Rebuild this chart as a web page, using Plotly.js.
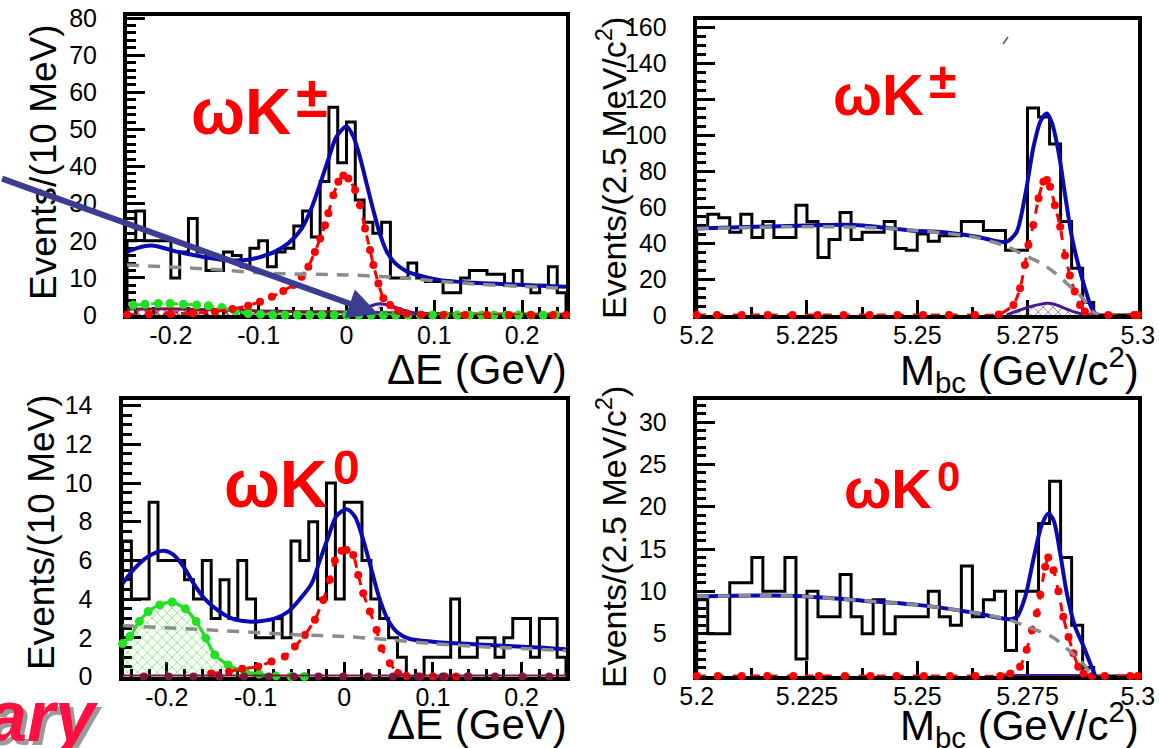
<!DOCTYPE html>
<html>
<head>
<meta charset="utf-8">
<script src="https://cdn.plot.ly/plotly-3.0.1.min.js"></script>
<style>
html, body { margin: 0; padding: 0; background: #ffffff; }
#chart { width: 1159px; height: 748px; }
</style>
</head>
<body>
<div id="chart"></div>
<script>
// ---- binning ----
const dEBinLow = -0.25, dEBinWidth = 0.01;      // ΔE histograms: 10 MeV bins
const mbcBinLow = 5.2, mbcBinWidth = 0.0025;    // Mbc histograms: 2.5 MeV/c^2 bins

// ---- event counts per bin ----
const kpmDECounts = [20, 28, 20, 20, 20, 10, 17, 26, 17, 12, 12, 17, 16, 13, 18, 20, 13, 17, 18, 24,
                     28, 21, 36, 56, 41, 52, 31, 25, 22, 25, 10, 10, 14, 10, 9, 9, 6, 6, 10, 12,
                     12, 11, 11, 8, 12, 8, 6, 8, 13, 6];
const kpmMbcCounts = [48, 56, 54, 46, 56, 43, 52, 43, 43, 61, 52, 32, 42, 57, 42, 46, 46, 52, 37, 36,
                      45, 41, 44, 44, 52, 52, 47, 47, 36, 36, 115, 110, 95, 52, 26, 7, 0, 0, 0, 0];
const k0DECounts = [7, 4, 4, 9, 6, 6, 6, 5, 4, 6, 3, 5, 3, 6, 4, 2, 2, 3, 2, 7,
                    6, 8, 4, 10, 4, 9, 9, 6, 4, 3, 2, 1, 0, 0, 1, 1, 1, 4, 1, 1,
                    2, 2, 1, 2, 3, 3, 1, 3, 3, 1];
const k0MbcCounts = [9, 5, 5, 11, 11, 14, 10, 10, 14, 2, 10, 7, 7, 12, 7, 5, 9, 5, 7, 7,
                     7, 10, 7, 6, 13, 7, 9, 10, 3, 10, 10, 18, 23, 14, 6, 1, 0, 0, 0, 0];

// ---- fit projections, omega K+- , Delta E ----
const kpmDETotalX = [-0.25, -0.2375, -0.222, -0.207, -0.192, -0.177, -0.158, -0.1425, -0.127, -0.112, -0.097, -0.082, -0.0665, -0.051, -0.04, -0.0305, -0.021, -0.0115, 0.0, 0.008, 0.0157, 0.0233, 0.031, 0.0385, 0.046, 0.0556, 0.069, 0.088, 0.107, 0.145, 0.183, 0.221, 0.25];
const kpmDETotalY = [17, 18.1, 18.7, 18, 17, 16.3, 15.4, 14.9, 14.7, 14.9, 15.7, 17, 19.3, 23.3, 28.7, 35, 41.7, 48, 50.8, 48, 42.2, 35, 27.8, 21.5, 17, 13.9, 11.7, 10.3, 9.4, 8.7, 8.3, 7.9, 7.6];
const kpmDEContX = [-0.25, -0.16, -0.085, 0.0, 0.065, 0.1, 0.15, 0.2, 0.25];
const kpmDEContY = [13.5, 12.4, 11.2, 10.8, 10.0, 9.2, 8.3, 7.7, 7.2];
const kpmDESigX = [-0.25, -0.225, -0.2, -0.175, -0.15, -0.13, -0.112, -0.0985, -0.085, -0.072, -0.0606, -0.051, -0.0435, -0.036, -0.030, -0.0245, -0.0207, -0.015, -0.0093, -0.0036, 0.0021, 0.0097, 0.0154, 0.0211, 0.0268, 0.0306, 0.0363, 0.042, 0.0496, 0.0591, 0.0686, 0.085, 0.11, 0.135, 0.16, 0.185, 0.21, 0.235, 0.25];
const kpmDESigY = [0.1, 0.2, 0.3, 0.5, 0.9, 1.6, 2.5, 3.6, 4.9, 6.5, 8.1, 10.3, 13, 17, 20.6, 24.2, 27.4, 32.3, 35.9, 37.6, 36.8, 33.7, 29.6, 23.3, 17.5, 13.5, 8.5, 4.5, 2.7, 1.1, 0.4, 0.1, 0, 0, 0, 0, 0, 0, 0];
const kpmDEFeedX = [-0.243, -0.2295, -0.2143, -0.201, -0.1858, -0.1706, -0.1573, -0.142, -0.1268, -0.112, -0.098, -0.084, -0.07, -0.056, -0.042, -0.028, -0.014, 0.0, 0.014, 0.028, 0.042, 0.056, 0.07, 0.084, 0.098, 0.112, 0.126, 0.14, 0.154, 0.168, 0.182, 0.196, 0.21, 0.224, 0.238];
const kpmDEFeedY = [2.7, 2.9, 3.1, 3.1, 2.9, 2.7, 2.5, 2.0, 1.1, 0.4, 0.15, 0, 0, 0, 0, 0, 0, 0, 0, 0, 0, 0, 0, 0, 0, 0, 0, 0, 0, 0, 0, 0, 0, 0, 0];
const kpmDEBBX = [-0.25, -0.2, -0.15, -0.1, -0.05, 0.0, 0.05, 0.1, 0.15, 0.2, 0.25];
const kpmDEBBY = [1.6, 1.7, 1.4, 1.1, 0.9, 0.8, 0.6, 0.4, 0.3, 0.25, 0.2];
const kpmDEPeakBkgX = [0.0, 0.01, 0.021, 0.031, 0.038, 0.05, 0.065, 0.08, 0.09];
const kpmDEPeakBkgY = [0.5, 0.9, 1.8, 2.7, 3.0, 2.5, 1.3, 0.4, 0.1];

// ---- fit projections, omega K+- , Mbc ----
const kpmMbcTotalX = [5.2, 5.2136, 5.2287, 5.236, 5.2484, 5.256, 5.2635, 5.268, 5.2703, 5.2725, 5.2745, 5.2764, 5.278, 5.2794, 5.2805, 5.282, 5.2835, 5.285, 5.2865, 5.288, 5.2895, 5.2905];
const kpmMbcTotalY = [48, 49, 50, 50, 47, 46, 43.5, 41, 40.7, 46, 67, 94, 108, 112, 107, 91, 67, 44, 28, 15, 4, 0.5];
const kpmMbcContX = [5.2, 5.21, 5.22, 5.23, 5.24, 5.25, 5.256, 5.2635, 5.2703, 5.2745, 5.2786, 5.2809, 5.2831, 5.2854, 5.2869, 5.2885, 5.2897, 5.291];
const kpmMbcContY = [48, 48.5, 49, 49, 48.5, 47, 45.5, 43, 38, 33, 28, 24, 19.4, 14, 11, 6, 2, 0];
const kpmMbcSigX = [5.2, 5.2046, 5.2102, 5.2161, 5.2217, 5.2274, 5.2333, 5.2392, 5.2455, 5.2513, 5.2572, 5.2631, 5.2685, 5.2718, 5.2733, 5.2744, 5.2752, 5.2763, 5.2775, 5.2786, 5.2794, 5.2801, 5.2812, 5.2824, 5.2835, 5.2846, 5.2857, 5.2869, 5.288, 5.2933, 5.2992, 5.3];
const kpmMbcSigY = [0, 0, 0, 0, 0, 0, 0, 0, 0, 0, 0, 0, 0.3, 5.6, 14.8, 27.8, 38.9, 50, 64.8, 74, 75, 71.3, 61, 49, 33, 22, 13, 5.6, 1.9, 0, 0, 0];
const kpmMbcPeakBkgX = [5.2703, 5.2733, 5.2756, 5.2778, 5.2794, 5.2809, 5.2831, 5.2854, 5.2877, 5.2892];
const kpmMbcPeakBkgY = [0, 2.8, 4.6, 5.9, 6.5, 6.1, 4.1, 1.9, 0.4, 0];

// ---- fit projections, omega K0 , Delta E ----
const k0DETotalX = [-0.25, -0.236, -0.221, -0.204, -0.1927, -0.1815, -0.1683, -0.157, -0.142, -0.127, -0.108, -0.093, -0.078, -0.063, -0.05, -0.0368, -0.0275, -0.0181, -0.0087, 0.0026, 0.012, 0.0214, 0.0308, 0.0402, 0.0496, 0.0609, 0.074, 0.1, 0.145, 0.183, 0.22, 0.25];
const k0DETotalY = [4.8, 5.6, 6.2, 6.5, 6.3, 5.7, 4.7, 4.0, 3.4, 3.0, 2.84, 2.87, 3.0, 3.36, 4.0, 4.8, 6.0, 7.2, 8.3, 8.64, 8.26, 7.06, 5.5, 3.96, 2.9, 2.24, 1.94, 1.8, 1.67, 1.58, 1.5, 1.41];
const k0DEContX = [-0.25, -0.15, -0.05, 0.0, 0.05, 0.1, 0.15, 0.2, 0.25];
const k0DEContY = [2.63, 2.4, 2.15, 2.07, 1.9, 1.7, 1.55, 1.45, 1.33];
const k0DESigX = [-0.15, -0.13, -0.115, -0.097, -0.082, -0.067, -0.0557, -0.0444, -0.0331, -0.0237, -0.0162, -0.0106, -0.0031, 0.0026, 0.0101, 0.0157, 0.0214, 0.0289, 0.0364, 0.042, 0.0514, 0.0608, 0.0702, 0.0852, 0.1, 0.113, 0.126, 0.14];
const k0DESigY = [0.15, 0.25, 0.4, 0.52, 0.77, 1.03, 1.55, 2.15, 2.93, 3.96, 5.0, 6.0, 6.5, 6.54, 6.28, 5.25, 4.3, 3.36, 2.4, 1.46, 0.69, 0.17, 0.03, 0, 0, 0, 0, 0];
const k0DEFeedX = [-0.25, -0.2417, -0.231, -0.221, -0.208, -0.194, -0.179, -0.167, -0.156, -0.146, -0.131, -0.112, -0.096, -0.077, -0.06, -0.045];
const k0DEFeedY = [1.7, 2.07, 2.84, 3.36, 3.7, 3.85, 3.5, 2.84, 1.98, 1.12, 0.6, 0.26, 0.12, 0.03, 0, 0];
const k0DEPeakBkgX = [-0.226, -0.198, -0.170, -0.141, -0.113, -0.085, -0.057, -0.029, -0.001, 0.027, 0.055, 0.083, 0.111, 0.139, 0.170, 0.201, 0.231];
const k0DEPeakBkgY = [0, 0, 0, 0, 0, 0, 0, 0, 0, 0, 0, 0, 0, 0, 0, 0, 0];

// ---- fit projections, omega K0 , Mbc ----
const k0MbcTotalX = [5.2, 5.215, 5.225, 5.2375, 5.25, 5.2625, 5.2711, 5.2726, 5.2745, 5.2763, 5.2782, 5.2797, 5.2809, 5.2824, 5.2839, 5.2858, 5.2877, 5.2892, 5.2903];
const k0MbcTotalY = [9.4, 9.5, 9.4, 8.9, 8.4, 7.5, 6.7, 7, 9.4, 13.7, 17.8, 19.2, 18.4, 14.5, 9.8, 5.8, 3.5, 1.5, 0.1];
const k0MbcContX = [5.2, 5.215, 5.225, 5.2375, 5.25, 5.2625, 5.2711, 5.2745, 5.278, 5.281, 5.284, 5.287, 5.289, 5.2905];
const k0MbcContY = [9.4, 9.5, 9.4, 8.9, 8.4, 7.5, 6.6, 5.9, 5.2, 4.5, 3.2, 1.8, 0.6, 0];
const k0MbcSigX = [5.2, 5.2048, 5.2102, 5.216, 5.2219, 5.2277, 5.2336, 5.2394, 5.2453, 5.2515, 5.2574, 5.2632, 5.2688, 5.2711, 5.2733, 5.2748, 5.276, 5.2771, 5.2779, 5.279, 5.2797, 5.2809, 5.282, 5.2831, 5.2843, 5.2854, 5.2865, 5.2877, 5.2896, 5.2925, 5.2983, 5.3];
const k0MbcSigY = [0, 0, 0, 0, 0, 0, 0, 0, 0, 0, 0, 0, 0, 0.3, 1.1, 3.1, 5.4, 7.4, 9.6, 12.9, 14, 12.5, 10, 7, 4.6, 2.7, 1.1, 0.3, 0, 0, 0, 0];
const k0MbcPeakBkgX = [5.2705, 5.2895];
const k0MbcPeakBkgY = [0, 0];

// ---- tick labels ----
const dETickVals = [-0.2, -0.1, 0, 0.1, 0.2];
const dETickText = ['-0.2', '-0.1', '0', '0.1', '0.2'];
const mbcTickVals = [5.2, 5.225, 5.25, 5.275, 5.3];
const mbcTickText = ['5.2', '5.225', '5.25', '5.275', '5.3'];

// ---- drawing helpers ----
const W = 1159, H = 748;
const px = v => v / W;
const py = v => 1 - v / H;

// step outline of a histogram, closed down to zero at both ends
function stepOutline(counts, lo, width) {
  const x = [lo], y = [0];
  counts.forEach((c, i) => { x.push(lo + i * width); y.push(c); });
  x.push(lo + counts.length * width); y.push(counts[counts.length - 1]);
  x.push(lo + counts.length * width); y.push(0);
  return { x, y };
}

const BLUE = '#0a0ab4', GRAY = '#8c8c8c', RED = '#ff0000', GREEN = '#22e022',
      PURPLE = '#4a1a8c', MAROON = '#7a1840';

function histTrace(counts, lo, width, xa, ya) {
  const s = stepOutline(counts, lo, width);
  return { type: 'scatter', mode: 'lines', x: s.x, y: s.y, xaxis: xa, yaxis: ya,
           line: { color: '#000', width: 3, shape: 'hv' }, hoverinfo: 'skip' };
}
function curve(x, y, xa, ya, color, width, dash) {
  return { type: 'scatter', mode: 'lines', x, y, xaxis: xa, yaxis: ya,
           line: { color, width, dash: dash || 'solid', shape: 'spline', smoothing: 0.8 },
           hoverinfo: 'skip' };
}
function dotted(x, y, xa, ya, color, size) {
  return { type: 'scatter', mode: 'lines+markers', x, y, xaxis: xa, yaxis: ya, cliponaxis: false,
           line: { color, width: 3, dash: 'dash', shape: 'spline', smoothing: 0.6 },
           marker: { color, size: size || 8 }, hoverinfo: 'skip' };
}
function hatched(x, y, xa, ya, color, shape, solidity) {
  return { type: 'scatter', mode: 'lines', x, y, xaxis: xa, yaxis: ya, fill: 'tozeroy',
           fillcolor: 'rgba(0,0,0,0)',
           fillpattern: { shape: shape || 'x', fgcolor: color, bgcolor: 'rgba(0,0,0,0)', size: 7, solidity: solidity || 0.15, fillmode: 'replace' },
           line: { color, width: 3, shape: 'spline', smoothing: 0.6 }, hoverinfo: 'skip' };
}

const traces = [
  // omega K+- , Delta E
  histTrace(kpmDECounts, dEBinLow, dEBinWidth, 'x', 'y'),
  hatched(kpmDEBBX, kpmDEBBY, 'x', 'y', MAROON, 'x', 0.35),
  dotted(kpmDEFeedX, kpmDEFeedY, 'x', 'y', GREEN, 9),
  hatched(kpmDEPeakBkgX, kpmDEPeakBkgY, 'x', 'y', PURPLE, 'x'),
  dotted(kpmDESigX, kpmDESigY, 'x', 'y', RED, 8),
  curve(kpmDETotalX, kpmDETotalY, 'x', 'y', BLUE, 4),
  curve(kpmDEContX, kpmDEContY, 'x', 'y', GRAY, 3.5, '12px,9px'),

  // omega K+- , Mbc
  histTrace(kpmMbcCounts, mbcBinLow, mbcBinWidth, 'x2', 'y2'),
  hatched(kpmMbcPeakBkgX, kpmMbcPeakBkgY, 'x2', 'y2', PURPLE, 'x'),
  dotted(kpmMbcSigX, kpmMbcSigY, 'x2', 'y2', RED, 8),
  curve(kpmMbcTotalX, kpmMbcTotalY, 'x2', 'y2', BLUE, 4),
  curve(kpmMbcContX, kpmMbcContY, 'x2', 'y2', GRAY, 3.5, '12px,9px'),

  // omega K0 , Delta E
  histTrace(k0DECounts, dEBinLow, dEBinWidth, 'x3', 'y3'),
  hatched(k0DEFeedX, k0DEFeedY, 'x3', 'y3', GREEN, 'x'),
  dotted(k0DEFeedX, k0DEFeedY, 'x3', 'y3', GREEN, 9),
  dotted(k0DESigX, k0DESigY, 'x3', 'y3', RED, 8),
  { type: 'scatter', mode: 'lines', x: [dEBinLow, -dEBinLow], y: [0, 0], xaxis: 'x3', yaxis: 'y3',
    line: { color: MAROON, width: 4 }, hoverinfo: 'skip' },
  { type: 'scatter', mode: 'markers', x: k0DEPeakBkgX, y: k0DEPeakBkgY, xaxis: 'x3', yaxis: 'y3', cliponaxis: false,
    marker: { color: MAROON, size: 8 }, hoverinfo: 'skip' },
  curve(k0DETotalX, k0DETotalY, 'x3', 'y3', BLUE, 4),
  curve(k0DEContX, k0DEContY, 'x3', 'y3', GRAY, 3.5, '12px,9px'),

  // omega K0 , Mbc
  histTrace(k0MbcCounts, mbcBinLow, mbcBinWidth, 'x4', 'y4'),
  { type: 'scatter', mode: 'lines', x: k0MbcPeakBkgX, y: k0MbcPeakBkgY, xaxis: 'x4', yaxis: 'y4', cliponaxis: false,
    line: { color: PURPLE, width: 4 }, hoverinfo: 'skip' },
  dotted(k0MbcSigX, k0MbcSigY, 'x4', 'y4', RED, 8),
  curve(k0MbcTotalX, k0MbcTotalY, 'x4', 'y4', BLUE, 4),
  curve(k0MbcContX, k0MbcContY, 'x4', 'y4', GRAY, 3.5, '12px,9px')
];

const FONT = 'Liberation Sans, Arial, Helvetica, sans-serif';

function xAxis(domain, range, vals, text, minorStep, anchor) {
  return {
    domain, range, anchor, tickmode: 'array', tickvals: vals, ticktext: text,
    ticks: 'inside', ticklen: 15, tickwidth: 3, tickcolor: '#000',
    minor: { ticks: 'inside', tick0: 0, dtick: minorStep, ticklen: 8, tickwidth: 3, tickcolor: '#000' },
    showline: true, linewidth: 4, linecolor: '#000', mirror: true,
    showgrid: false, zeroline: false, layer: 'below traces',
    tickfont: { family: FONT, size: 25, color: '#000' }, ticklabelstandoff: -5, fixedrange: true
  };
}
function yAxis(domain, range, major, minorStep, anchor) {
  return {
    domain, range, anchor, tickmode: 'linear', tick0: 0, dtick: major,
    ticks: 'inside', ticklen: 18, tickwidth: 3, tickcolor: '#000',
    minor: { ticks: 'inside', tick0: 0, dtick: minorStep, ticklen: 9, tickwidth: 3, tickcolor: '#000' },
    showline: true, linewidth: 4, linecolor: '#000', mirror: true,
    showgrid: false, zeroline: false, layer: 'below traces',
    tickfont: { family: FONT, size: 25, color: '#000' }, ticklabelstandoff: 21, fixedrange: true
  };
}

const topY = [py(315), py(15.5)];
const botY = [py(676.5), py(400)];
const leftX = [px(127), px(566)];
const leftXb = [px(122.5), px(566)];
const rightX = [px(696.7), px(1137.8)];

const dETitleFont = { family: FONT, size: 37, color: '#000' };
const mbcTitleFont = { family: FONT, size: 34, color: '#000' };
const xTitleFont = { family: FONT, size: 42, color: '#000' };
const tag = size => ({ family: FONT, size, color: '#ff0000' });
const stampFont = c => ({ family: FONT, size: 72, color: c });

function note(x, y, text, font, extra) {
  return Object.assign({ xref: 'paper', yref: 'paper', x: px(x), y: py(y), text, showarrow: false,
                         xanchor: 'center', yanchor: 'middle', font }, extra || {});
}
// decay-mode tag: "ωK" ending at xEnd, followed by a raised charge symbol
function modeTag(xEnd, yMid, size, charge, chargeSize, chargeY) {
  return [
    note(xEnd, yMid, '<b>ωK</b>', tag(size), { xanchor: 'right' }),
    note(xEnd + 1, chargeY, `<b>${charge}</b>`, tag(chargeSize), { xanchor: 'left' })
  ];
}

const annotations = [
  note(44, 162, 'Events/(10 MeV)', dETitleFont, { textangle: -90 }),
  note(611, 168, 'Events/(2.5 MeV/c<sup>2</sup>)', mbcTitleFont, { textangle: -90 }),
  note(41, 532, 'Events/(10 MeV)', dETitleFont, { textangle: -90 }),
  note(611, 537, 'Events/(2.5 MeV/c<sup>2</sup>)', mbcTitleFont, { textangle: -90 }),

  note(569, 369, 'ΔE (GeV)', xTitleFont, { xanchor: 'right' }),
  note(1141, 369, 'M<sub>bc</sub> (GeV/c<sup>2</sup>)', xTitleFont, { xanchor: 'right' }),
  note(569, 724, 'ΔE (GeV)', xTitleFont, { xanchor: 'right' }),
  note(1141, 724, 'M<sub>bc</sub> (GeV/c<sup>2</sup>)', xTitleFont, { xanchor: 'right' }),

  ...modeTag(293, 112, 64, '±', 58, 96),
  ...modeTag(926, 94, 58, '±', 50, 81),
  ...modeTag(330, 484, 66, '0', 48, 468),
  ...modeTag(934, 489, 56, '0', 42, 476),

  // pointer drawn across the upper-left panel
  { xref: 'x', yref: 'y', x: 0.036, y: 0.3, ax: -378, ay: -136, text: ' ', showarrow: true,
    arrowhead: 2, arrowsize: 1, arrowwidth: 6, arrowcolor: '#3c3c92', standoff: 0, font: { size: 2 } },

  // stamp in the lower-left corner
  note(105, 720, '<b><i>ary</i></b>', stampFont('#9a9a9a'), { xanchor: 'right' }),
  note(101, 716, '<b><i>ary</i></b>', stampFont('#ff1040'), { xanchor: 'right' })
];

const layout = {
  width: W, height: H,
  margin: { l: 0, r: 0, t: 0, b: 0 },
  paper_bgcolor: '#ffffff', plot_bgcolor: '#ffffff',
  showlegend: false,
  xaxis: xAxis(leftX, [-0.25, 0.25], dETickVals, dETickText, 0.02, 'y'),
  yaxis: yAxis(topY, [0, 80.7], 10, 2, 'x'),
  xaxis2: xAxis(rightX, [5.2, 5.3], mbcTickVals, mbcTickText, 0.0125, 'y2'),
  yaxis2: yAxis([py(315), py(20)], [0, 163.9], 20, 5, 'x2'),
  xaxis3: xAxis(leftXb, [-0.25, 0.25], dETickVals, dETickText, 0.02, 'y3'),
  yaxis3: yAxis(botY, [0, 14.29], 2, 0.5, 'x3'),
  xaxis4: xAxis(rightX, [5.2, 5.3], mbcTickVals, mbcTickText, 0.0125, 'y4'),
  yaxis4: yAxis([py(676), py(400)], [0, 32.6], 5, 1, 'x4'),
  shapes: [
    // small pen stroke above the upper-right panel's peak
    { type: 'line', xref: 'paper', yref: 'paper', x0: px(1003), y0: py(44), x1: px(1008), y1: py(37),
      line: { color: '#555', width: 1.5 } }
  ],
  annotations
};

Plotly.newPlot('chart', traces, layout, { displayModeBar: false, staticPlot: true });
</script>
</body>
</html>
